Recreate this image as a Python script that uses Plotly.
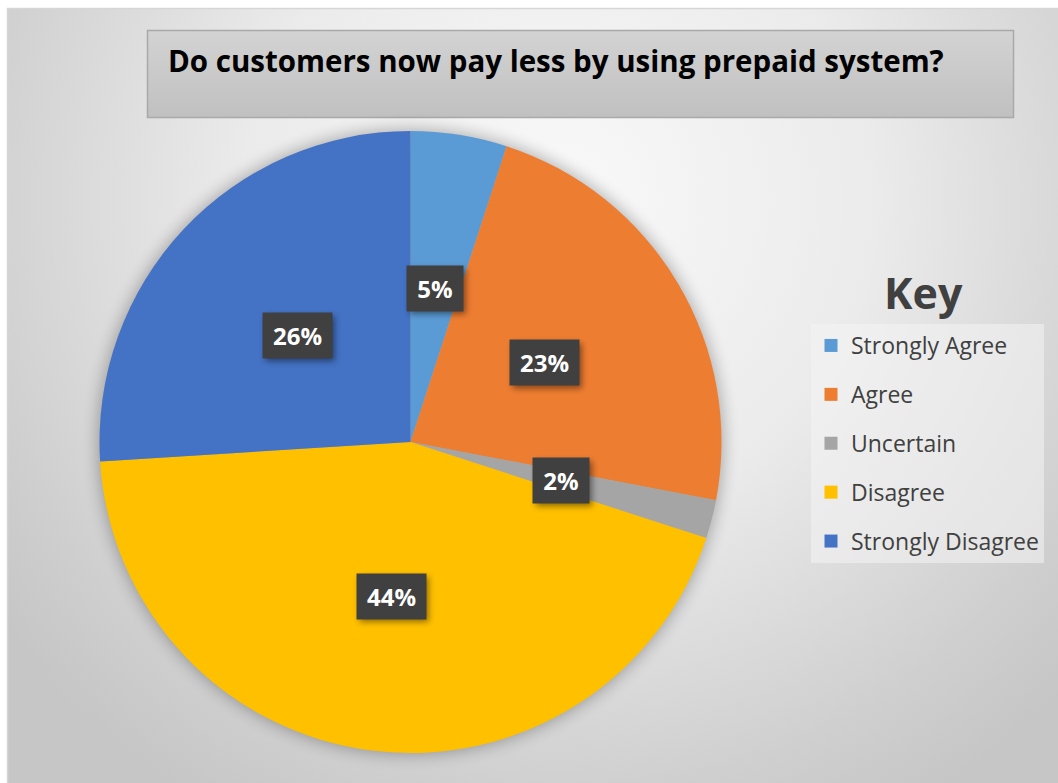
import base64
import numpy as np
import plotly.graph_objects as go

# Survey answers
categories = ["Strongly Agree", "Agree", "Uncertain", "Disagree", "Strongly Disagree"]
shares = [5, 23, 2, 44, 26]
colors = ["#5B9BD5", "#ED7D31", "#A5A5A5", "#FFC000", "#4472C4"]
title_text = "Do customers now pay less by using prepaid system?"
key_text = "Key"

W, H = 1058, 783
FONT = "Open Sans"

# Pie placement in pixels
PIE_CX, PIE_CY, PIE_R = 410.5, 442.0, 311.0
dom_x = [(PIE_CX - PIE_R) / W, (PIE_CX + PIE_R) / W]
dom_y = [1 - (PIE_CY + PIE_R) / H, 1 - (PIE_CY - PIE_R) / H]

# Percentage label boxes at half radius along each slice's middle angle
frac = np.array(shares, dtype=float) / sum(shares)
mid = (np.cumsum(frac) - frac / 2) * 2 * np.pi
lab_px = PIE_CX + 0.5 * PIE_R * np.sin(mid)
lab_py = PIE_CY - 0.5 * PIE_R * np.cos(mid)
PAD = 7
TXT_H = 31
txt_w = [29 + 13 * len(str(v)) for v in shares]

# Background: radial gradient panel, title box and a soft shadow under the pie
svg_below = f"""<svg xmlns="http://www.w3.org/2000/svg" width="{W}" height="{H}" viewBox="0 0 {W} {H}" preserveAspectRatio="none">
<defs>
<radialGradient id="bg" gradientUnits="userSpaceOnUse" cx="560" cy="200" r="700">
<stop offset="0" stop-color="#f9f9f9"/>
<stop offset="0.45" stop-color="#ebebeb"/>
<stop offset="0.72" stop-color="#d8d8d8"/>
<stop offset="0.85" stop-color="#cfcfcf"/>
<stop offset="1" stop-color="#c6c6c6"/>
</radialGradient>
<linearGradient id="tb" x1="0" y1="0" x2="0" y2="1">
<stop offset="0" stop-color="#d3d3d3"/>
<stop offset="1" stop-color="#c0c0c0"/>
</linearGradient>
<filter id="soft" x="-20%" y="-20%" width="140%" height="140%">
<feGaussianBlur stdDeviation="8"/>
</filter>
</defs>
<rect width="{W}" height="{H}" fill="#ffffff"/>
<rect x="7.5" y="8.5" width="{W}" height="{H}" fill="url(#bg)" stroke="#d6d6d6" stroke-width="1.5"/>
<rect x="147.5" y="30.5" width="866" height="87" fill="url(#tb)" stroke="#a9a9a9" stroke-width="1.5"/>
<circle cx="{PIE_CX}" cy="{PIE_CY}" r="{PIE_R + 2}" fill="#000000" opacity="0.28" filter="url(#soft)"/>
</svg>"""

# Drop shadows behind the percentage boxes
shadow_rects = "".join(
    f'<rect x="{x - (w + 2 * PAD) / 2 + 3:.1f}" y="{y - (TXT_H + 2 * PAD) / 2 + 3:.1f}" '
    f'width="{w + 2 * PAD}" height="{TXT_H + 2 * PAD}" fill="#000000" opacity="0.45" filter="url(#sh)"/>'
    for x, y, w in zip(lab_px, lab_py, txt_w)
)
svg_above = f"""<svg xmlns="http://www.w3.org/2000/svg" width="{W}" height="{H}" viewBox="0 0 {W} {H}" preserveAspectRatio="none">
<defs><filter id="sh" x="-30%" y="-30%" width="160%" height="160%"><feGaussianBlur stdDeviation="3"/></filter></defs>
{shadow_rects}
</svg>"""


def to_uri(s):
    return "data:image/svg+xml;base64," + base64.b64encode(s.encode()).decode()


fig = go.Figure()

fig.add_trace(go.Pie(
    labels=categories,
    values=shares,
    marker=dict(colors=colors, line=dict(width=0)),
    sort=False,
    direction="clockwise",
    rotation=0,
    textinfo="none",
    hoverinfo="label+percent",
    domain=dict(x=dom_x, y=dom_y),
    showlegend=False,
))

# Legend entries for the key
for cat, col in zip(categories, colors):
    fig.add_trace(go.Scatter(
        x=[None], y=[None], mode="markers", name=cat, legendgroup=cat,
        marker=dict(symbol="square", size=13, color=col),
        hoverinfo="skip",
    ))

annotations = []
for v, x, y, w in zip(shares, lab_px, lab_py, txt_w):
    annotations.append(dict(
        x=x / W, y=1 - y / H,
        xref="paper", yref="paper", showarrow=False,
        text=f"<b>{v}%</b>",
        font=dict(family=FONT, size=24, color="#ffffff"),
        bgcolor="#404040", borderpad=PAD, width=w, height=TXT_H,
        xanchor="center", yanchor="middle", align="center", valign="middle",
    ))

annotations.append(dict(
    x=923 / W, y=1 - 292 / H, xref="paper", yref="paper", showarrow=False,
    text=f"<b>{key_text}</b>",
    font=dict(family=FONT, size=43, color="#404040"),
    xanchor="center", yanchor="middle",
))

fig.update_layout(
    width=W, height=H,
    margin=dict(l=0, r=0, t=0, b=0),
    paper_bgcolor="#ffffff",
    plot_bgcolor="rgba(0,0,0,0)",
    xaxis=dict(visible=False),
    yaxis=dict(visible=False),
    title=dict(
        text=f"<b>{title_text}</b>",
        font=dict(family=FONT, size=29.5, color="#000000"),
        x=168 / W, xanchor="left", xref="paper",
        y=1 - 62 / H, yanchor="middle", yref="paper",
    ),
    legend=dict(
        x=811 / W, y=1 - 324 / H, xanchor="left", yanchor="top",
        bgcolor="rgba(244,244,244,0.55)",
        font=dict(family=FONT, size=23, color="#404040"),
        tracegroupgap=16,
        itemsizing="trace",
    ),
    annotations=annotations,
    images=[
        dict(source=to_uri(svg_below), xref="paper", yref="paper", x=0, y=1,
             sizex=1, sizey=1, sizing="stretch", xanchor="left", yanchor="top",
             layer="below"),
        dict(source=to_uri(svg_above), xref="paper", yref="paper", x=0, y=1,
             sizex=1, sizey=1, sizing="stretch", xanchor="left", yanchor="top",
             layer="above"),
    ],
)

fig.write_html("out.html")
